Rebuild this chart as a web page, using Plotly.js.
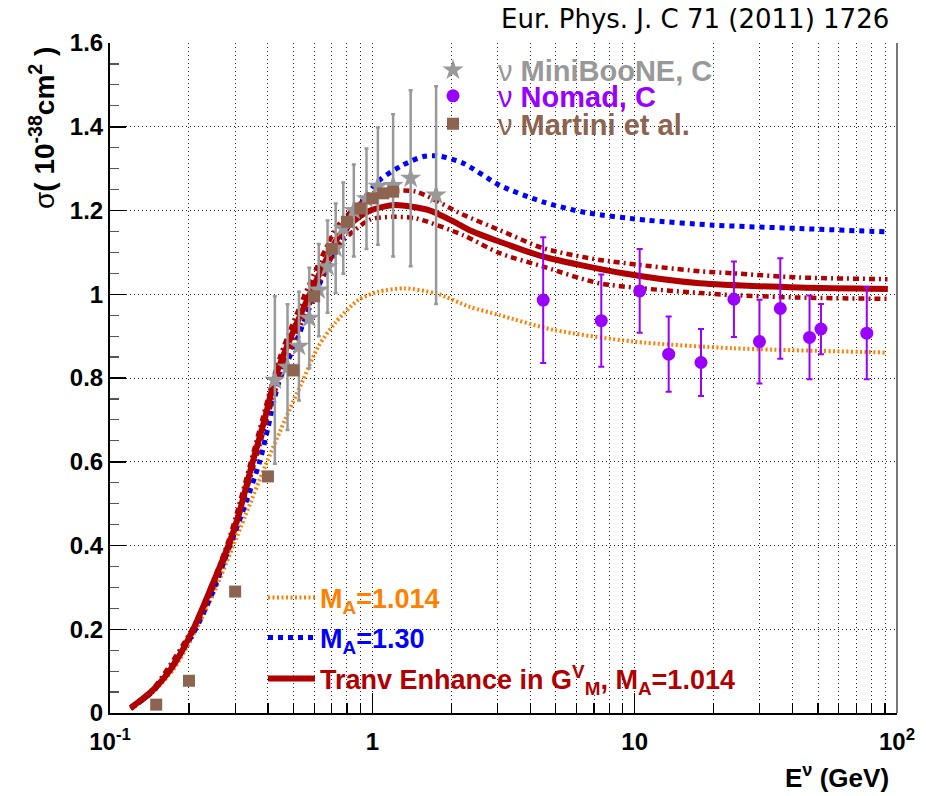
<!DOCTYPE html>
<html>
<head>
<meta charset="utf-8">
<script src="https://cdn.plot.ly/plotly-3.0.1.min.js"></script>
<style>html,body{margin:0;padding:0;background:#fff;}#chart{width:926px;height:796px;}</style>
</head>
<body>
<div id="chart"></div>
<script>
// ---------- data ----------
// Transverse enhancement in G_M^V, M_A = 1.014 (solid dark red)
const tranvE = [0.12, 0.146, 0.175, 0.2076, 0.245, 0.2826, 0.308, 0.35, 0.39, 0.4255, 0.50, 0.578, 0.742, 0.858, 0.993, 1.22, 1.64, 2.05, 2.35, 3.06, 4.48, 9.03, 17.7, 42.5, 92.3];
const tranvY = [0.012, 0.055, 0.115, 0.20, 0.305, 0.40, 0.469, 0.60, 0.705, 0.80, 0.912, 1.00, 1.137, 1.177, 1.201, 1.213, 1.201, 1.173, 1.153, 1.1255, 1.09, 1.05, 1.026, 1.016, 1.0125];
// uncertainty band around it (dash-dot dark red)
const bandE     = [0.12, 0.146, 0.2076, 0.2826, 0.362, 0.4446, 0.5954, 0.752, 0.979, 1.2, 1.47, 2.22, 3.06, 4.48, 7.36, 17.7, 23.7, 42.5, 92];
const bandUpper = [0.014, 0.058, 0.205, 0.41, 0.65, 0.85, 1.045, 1.17, 1.232, 1.247, 1.245, 1.19, 1.153, 1.11, 1.082, 1.055, 1.050, 1.04, 1.036];
const bandLower = [0.010, 0.052, 0.195, 0.39, 0.615, 0.805, 0.995, 1.12, 1.178, 1.185, 1.181, 1.141, 1.098, 1.066, 1.026, 1.003, 0.998, 0.992, 0.989];
// M_A = 1.30 (blue dotted)
const ma130E = [0.12, 0.146, 0.2076, 0.245, 0.2826, 0.32, 0.372, 0.401, 0.44, 0.5065, 0.614, 0.772, 0.923, 1.068, 1.31, 1.565, 1.8, 2.22, 3.06, 4.5, 6.5, 11.1, 20, 42.5, 91];
const ma130Y = [0.012, 0.052, 0.19, 0.285, 0.39, 0.48, 0.60, 0.684, 0.79, 0.879, 1.01, 1.137, 1.225, 1.273, 1.309, 1.329, 1.33, 1.313, 1.26, 1.22, 1.195, 1.177, 1.165, 1.157, 1.149];
// M_A = 1.014 (orange dotted)
const ma1014E = [0.12, 0.146, 0.175, 0.2076, 0.25, 0.3268, 0.3895, 0.4645, 0.537, 0.622, 0.72, 0.883, 1.05, 1.33, 1.75, 2.35, 3.06, 4.9, 9.87, 23.7, 91];
const ma1014Y = [0.010, 0.05, 0.105, 0.185, 0.29, 0.469, 0.588, 0.700, 0.787, 0.875, 0.931, 0.986, 1.006, 1.014, 1.002, 0.970, 0.950, 0.915, 0.887, 0.871, 0.861];
// MiniBooNE, C (grey stars)
const mbE   = [0.425, 0.475, 0.525, 0.575, 0.625, 0.675, 0.725, 0.775, 0.85, 0.95, 1.05, 1.2, 1.4, 1.75];
const mbY   = [0.795, 0.826, 0.876, 0.943, 1.010, 1.066, 1.110, 1.158, 1.20, 1.228, 1.258, 1.26, 1.277, 1.237];
const mbErr = [0.20, 0.15, 0.13, 0.12, 0.11, 0.11, 0.107, 0.109, 0.11, 0.12, 0.14, 0.17, 0.21, 0.26];
// Nomad, C (violet circles)
const nomE   = [4.48, 7.46, 10.45, 13.48, 17.9, 23.9, 29.9, 35.9, 46.4, 51.3, 76.7];
const nomY   = [0.986, 0.937, 1.008, 0.857, 0.837, 0.988, 0.887, 0.966, 0.897, 0.917, 0.907];
const nomErr = [0.15, 0.11, 0.10, 0.09, 0.08, 0.09, 0.10, 0.12, 0.10, 0.06, 0.11];
// Martini et al. (brown squares)
const marE = [0.15, 0.2, 0.3, 0.4, 0.5, 0.6, 0.7, 0.8, 0.9, 1.0, 1.1, 1.2];
const marY = [0.02, 0.077, 0.29, 0.565, 0.818, 0.995, 1.108, 1.173, 1.205, 1.229, 1.241, 1.245];
// axis tick labels
const xTickVals = [0.1, 1, 10, 100];
const xTickText = ['10<sup>-1</sup>', '1', '10', '10<sup>2</sup>'];

// ---------- styling ----------
const C = {
  grey: '#999999', violet: '#9900ff', brown: '#8c6450',
  orange: '#ff8000', blue: '#0000ff', red: '#b00000'
};
const FONT = 'Liberation Sans, Arial, Helvetica, sans-serif';

const minorX = [];
[0.1, 1, 10].forEach(d => { for (let k = 2; k <= 9; k++) minorX.push(k * d); });

const traces = [
  {x: ma1014E, y: ma1014Y, mode: 'lines', line: {color: C.orange, width: 4, dash: '2px,2.5px', shape: 'spline', smoothing: 0.7},
   name: '<b>M<sub>A</sub>=1.014</b>', legend: 'legend4'},
  {x: ma130E, y: ma130Y, mode: 'lines', line: {color: C.blue, width: 5, dash: 'dot', shape: 'spline', smoothing: 0.7},
   name: '<b>M<sub>A</sub>=1.30</b>', legend: 'legend5'},
  {x: bandE, y: bandUpper, mode: 'lines', line: {color: C.red, width: 4.5, dash: '6px,4px,2px,4px', shape: 'spline', smoothing: 0.7}, showlegend: false},
  {x: bandE, y: bandLower, mode: 'lines', line: {color: C.red, width: 4.5, dash: '6px,4px,2px,4px', shape: 'spline', smoothing: 0.7}, showlegend: false},
  {x: tranvE, y: tranvY, mode: 'lines', line: {color: C.red, width: 6, shape: 'spline', smoothing: 0.7},
   name: '<b>Tranv Enhance in G<sup>V</sup><sub>M</sub>, M<sub>A</sub>=1.014</b>', legend: 'legend6'},
  {x: mbE, y: mbY, mode: 'markers', marker: {symbol: 'star', size: 16, color: C.grey},
   error_y: {type: 'data', array: mbErr, color: C.grey, thickness: 2.5, width: 2},
   name: 'ν <b>MiniBooNE, C</b>', legend: 'legend'},
  {x: marE, y: marY, mode: 'markers', marker: {symbol: 'square', size: 12, color: C.brown},
   name: 'ν <b>Martini et al.</b>', legend: 'legend3'},
  {x: nomE, y: nomY, mode: 'markers', marker: {symbol: 'circle', size: 13, color: C.violet},
   error_y: {type: 'data', array: nomErr, color: C.violet, thickness: 2, width: 3},
   name: 'ν <b>Nomad, C</b>', legend: 'legend2'}
];

// plot area in pixels: x 110..897, y 43..713
const L = 110, R = 897, T = 43, B = 713;
const px = p => (p - L) / (R - L);
const py = p => (B - p) / (B - T);

function lg(xp, yp, color, size, iw) {
  return {x: px(xp), xanchor: 'left', y: py(yp), yanchor: 'middle', bgcolor: 'rgba(0,0,0,0)',
          borderwidth: 0, itemwidth: iw, font: {family: FONT, size: size, color: color}};
}

const gridDash = '1px,3px';
const layout = {
  width: 926, height: 796,
  margin: {l: L, r: 926 - R, t: T, b: 796 - B},
  paper_bgcolor: '#ffffff', plot_bgcolor: '#ffffff',
  showlegend: true,
  xaxis: {
    type: 'log', range: [-1, 2],
    tickmode: 'array', tickvals: xTickVals, ticktext: xTickText,
    ticks: 'inside', ticklen: 20, tickwidth: 1.5, tickcolor: '#000',
    ticklabelstandoff: 6,
    tickfont: {family: FONT, size: 24, color: '#000', weight: 'bold'},
    showgrid: true, gridcolor: '#222', gridwidth: 1, griddash: gridDash,
    minor: {tickmode: 'array', tickvals: minorX, ticks: 'inside', ticklen: 10, tickwidth: 1.2, tickcolor: '#000',
            showgrid: true, gridcolor: '#222', gridwidth: 1, griddash: gridDash},
    showline: true, linecolor: '#000', linewidth: 2, zeroline: false
  },
  yaxis: {
    range: [0, 1.6], tick0: 0, dtick: 0.2,
    ticks: 'inside', ticklen: 16, tickwidth: 1.5, tickcolor: '#000',
    tickfont: {family: FONT, size: 24, color: '#000', weight: 'bold'},
    showgrid: true, gridcolor: '#222', gridwidth: 1, griddash: gridDash,
    minor: {dtick: 0.05, ticks: 'inside', ticklen: 9, tickwidth: 1.2, tickcolor: '#555', showgrid: false},
    showline: true, linecolor: '#000', linewidth: 2, zeroline: false
  },
  legend:  lg(408, 70, C.grey, 29, 80),
  legend2: lg(408, 96, C.violet, 29, 80),
  legend3: lg(408, 124, C.brown, 29, 80),
  legend4: lg(263, 598, C.orange, 27, 47),
  legend5: lg(263, 638, C.blue, 27, 47),
  legend6: lg(263, 679, C.red, 27, 47),
  shapes: [
    {type: 'line', xref: 'paper', yref: 'paper', x0: 1, x1: 1, y0: 0, y1: 1, line: {color: '#777', width: 2}}
  ],
  annotations: [
    {text: 'Eur. Phys. J. C 71 (2011) 1726', xref: 'paper', yref: 'paper', x: px(891), y: py(19),
     xanchor: 'right', yanchor: 'middle', showarrow: false, font: {family: 'DejaVu Sans', size: 26, color: '#000'}},
    {text: 'σ<b>( 10<sup>-38</sup>cm<sup>2</sup> )</b>', xref: 'paper', yref: 'paper', x: px(42), y: py(128),
     xanchor: 'center', yanchor: 'middle', textangle: -90, showarrow: false, font: {family: FONT, size: 28, color: '#000'}},
    {text: '<b>E<sup>ν</sup> (GeV)</b>', xref: 'paper', yref: 'paper', x: px(891), y: py(776),
     xanchor: 'right', yanchor: 'middle', showarrow: false, font: {family: FONT, size: 26, color: '#000'}}
  ]
};

Plotly.newPlot('chart', traces, layout, {displayModeBar: false, staticPlot: true});
</script>
</body>
</html>
